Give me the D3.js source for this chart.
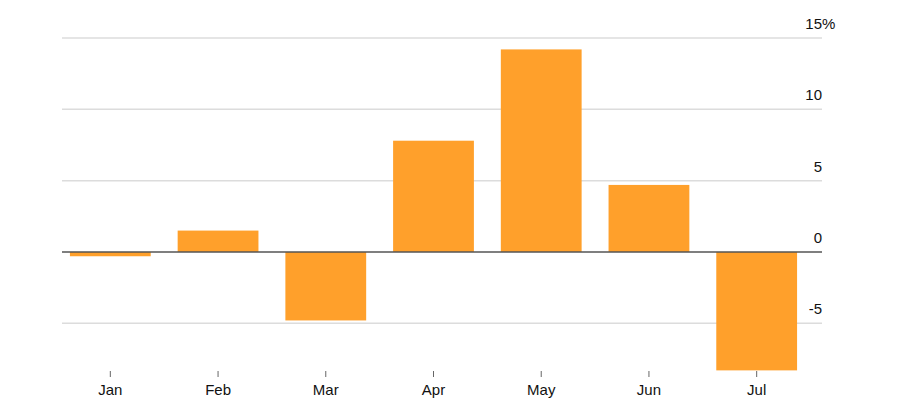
<!DOCTYPE html>
<html lang="en">
  <head>
    <title>Monthly change</title>
    <meta charset="UTF-8">
    <script src="https://d3js.org/d3.v7.min.js"></script>
    <style>
      * {
        margin: 0;
        padding: 0;
      }
      body {
        background: white;
      }
      svg {
        display: block;
        font-family: 'Liberation Sans', Arial, sans-serif;
      }
    </style>
  </head>
  <body>
    <script>
      const months = ['Jan', 'Feb', 'Mar', 'Apr', 'May', 'Jun', 'Jul']
      const values = [-0.3, 1.5, -4.8, 7.8, 14.2, 4.7, -8.3]
      const yTicks = [-5, 0, 5, 10, 15]

      const data = months.map((m, i) => ({ month: m, value: values[i] }))

      const width = 900
      const height = 420
      const left = 62
      const right = 822

      const svg = d3.select('body')
                    .append('svg')
                    .attr('width', width)
                    .attr('height', height)

      const xScale = d3.scaleBand()
                       .domain(months)
                       .range([43, 824])
                       .padding(0.25)

      const yScale = d3.scaleLinear()
                       .domain([-5, 15])
                       .range([323.3, 38])

      // gridlines
      svg.selectAll('line.grid')
         .data(yTicks.filter(d => d !== 0))
         .enter()
         .append('line')
         .attr('class', 'grid')
         .attr('x1', left)
         .attr('x2', right)
         .attr('y1', d => yScale(d))
         .attr('y2', d => yScale(d))
         .attr('stroke', '#dcdcdc')
         .attr('stroke-width', 1.5)

      // tick labels, right aligned with % hanging on top one
      svg.selectAll('text.ylab')
         .data(yTicks)
         .enter()
         .append('text')
         .attr('class', 'ylab')
         .attr('x', right)
         .attr('y', d => yScale(d) - 9)
         .attr('text-anchor', 'end')
         .attr('font-size', 15)
         .attr('fill', '#111')
         .text(d => d)

      svg.append('text')
         .attr('x', right)
         .attr('y', yScale(15) - 9)
         .attr('font-size', 15)
         .attr('fill', '#111')
         .text('%')

      // bars
      svg.selectAll('rect')
         .data(data)
         .enter()
         .append('rect')
         .attr('x', d => xScale(d.month))
         .attr('width', xScale.bandwidth())
         .attr('y', d => yScale(Math.max(0, d.value)))
         .attr('height', d => Math.abs(yScale(d.value) - yScale(0)))
         .attr('fill', '#ffa02b')

      // zero line
      svg.append('line')
         .attr('x1', left)
         .attr('x2', right)
         .attr('y1', yScale(0))
         .attr('y2', yScale(0))
         .attr('stroke', '#555')
         .attr('stroke-width', 1.5)

      // x axis
      const xAxis = d3.axisBottom(xScale)
                      .tickSize(6)
                      .tickPadding(7)

      const gx = svg.append('g')
                    .attr('transform', 'translate(0, 371)')
                    .call(xAxis)

      gx.select('.domain').remove()
      gx.selectAll('.tick line').attr('stroke', '#666')
      gx.selectAll('.tick text')
        .attr('font-size', 15)
        .attr('font-family', "'Liberation Sans', Arial, sans-serif")
        .attr('fill', '#111')
    </script>
  </body>
</html>
